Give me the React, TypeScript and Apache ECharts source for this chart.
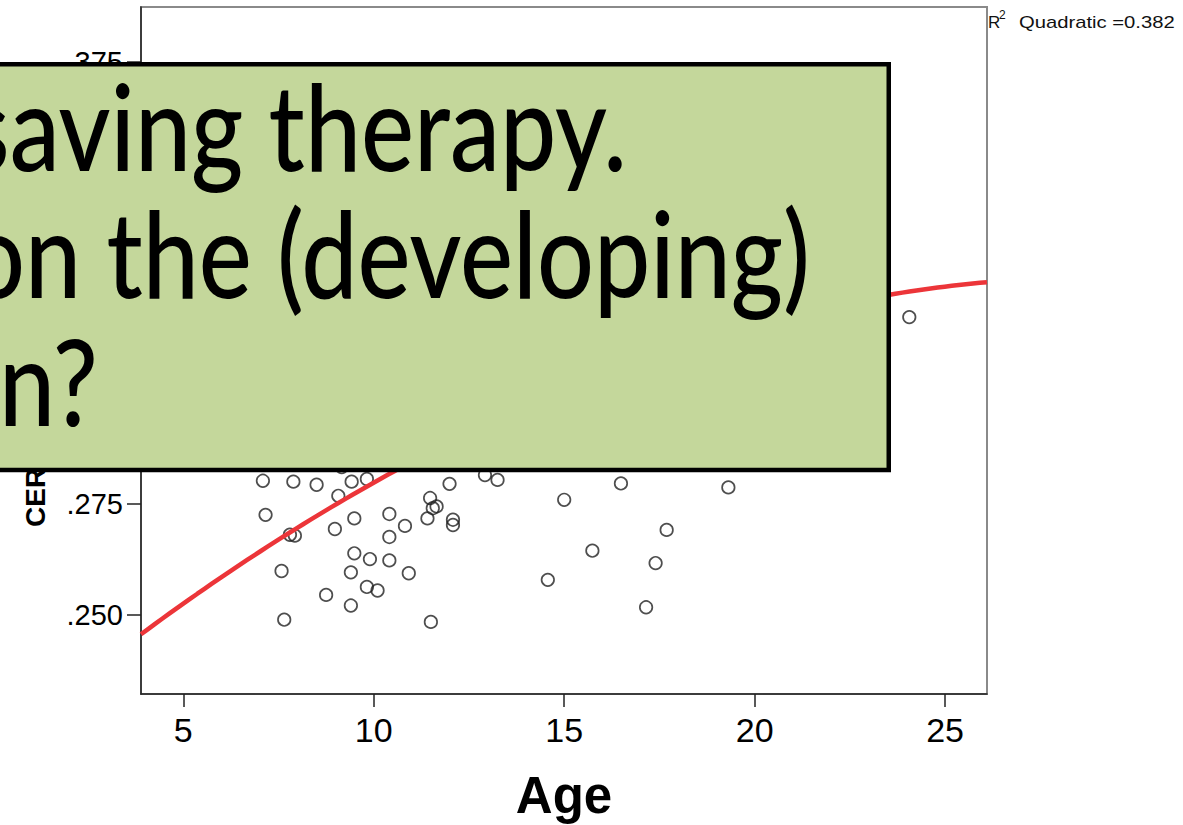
import React, { useEffect, useRef } from "react";
import * as echarts from "echarts";

// Axis ranges and tick values
const X_MIN = 3.89;
const X_MAX = 26.1;
const Y_MIN = 0.2321;
const Y_MAX = 0.3874;
const X_TICKS = [5, 10, 15, 20, 25];
const Y_TICKS = [0.25, 0.275, 0.3, 0.325, 0.35, 0.375];

// Observations: age (years) and CER value
const AGE = [
  7.09, 7.89, 8.5, 9.42, 9.82, 9.07, 9.16, 7.16, 9.49, 10.41, 8.98, 7.8, 7.93,
  10.41, 9.49, 9.9, 10.41, 7.58, 9.4, 9.82, 10.1, 8.75, 9.4, 7.65, 11.99, 12.92,
  13.25, 16.49, 19.31, 11.48, 11.65, 11.55, 15.0, 10.82, 11.41, 12.08, 12.08,
  17.69, 10.92, 15.74, 17.4, 14.57, 17.15, 11.5, 24.06,
];
const CER = [
  0.2803, 0.2801, 0.2794, 0.2801, 0.2807, 0.2769, 0.2834, 0.2726, 0.2718,
  0.2728, 0.2694, 0.2681, 0.2679, 0.2676, 0.2639, 0.2626, 0.2623, 0.2599,
  0.2596, 0.2563, 0.2555, 0.2545, 0.2521, 0.2489, 0.2796, 0.2816, 0.2805,
  0.2797, 0.2788, 0.2764, 0.2745, 0.2741, 0.276, 0.2701, 0.2718, 0.2715,
  0.2703, 0.2692, 0.2594, 0.2645, 0.2617, 0.2579, 0.2517, 0.2484, 0.3173,
];

// Quadratic fit: CER = a + b*age + c*age^2
const FIT_INTERCEPT = 0.218879;
const FIT_LINEAR = 0.0073584;
const FIT_QUADRATIC = -0.00012585;
const FIT_NAME = "Quadratic =0.382";

// Overlay box text lines
const BOX_LINES = ["saving therapy.", "on the (developing)", "n?"];

const AXIS_FONT = "'Liberation Sans', Arial, sans-serif";
const BOX_FONT = "Lato, 'Open Sans', sans-serif";

export default function App() {
  const ref = useRef<HTMLDivElement>(null);

  useEffect(() => {
    if (!ref.current) return;
    const chart = echarts.init(ref.current, null, { renderer: "svg" });

    const points = AGE.map((a, i) => [a, CER[i]]);
    const fit: number[][] = [];
    const steps = 120;
    for (let i = 0; i <= steps; i++) {
      const x = X_MIN + ((X_MAX - X_MIN) * i) / steps;
      fit.push([x, FIT_INTERCEPT + FIT_LINEAR * x + FIT_QUADRATIC * x * x]);
    }

    const boxFontSize = 120;
    const boxScaleX = 0.835;
    const baselines = [171.7, 298, 426.7];
    const rightEdges = [627, 810, 98];

    chart.setOption({
      animation: false,
      backgroundColor: "#ffffff",
      grid: {
        left: 141,
        right: 196,
        top: 7,
        bottom: 131,
        show: true,
        outerBoundsMode: "none",
        containLabel: false,
        borderColor: "#8a8a8a",
        borderWidth: 2,
        backgroundColor: "transparent",
      },
      xAxis: {
        type: "value",
        min: X_MIN,
        max: X_MAX,
        name: "Age",
        nameLocation: "middle",
        nameGap: 76,
        nameTextStyle: {
          fontFamily: AXIS_FONT,
          fontWeight: "bold",
          fontSize: 51,
          color: "#000",
        },
        axisLine: { show: true, lineStyle: { color: "#222", width: 1.5 } },
        axisTick: {
          show: true,
          length: 13,
          customValues: X_TICKS,
          lineStyle: { color: "#222", width: 1.5 },
        },
        axisLabel: {
          customValues: X_TICKS,
          margin: 19,
          fontFamily: AXIS_FONT,
          fontSize: 34,
          color: "#000",
          formatter: (v: number) => String(v),
        },
        splitLine: { show: false },
      },
      yAxis: {
        type: "value",
        min: Y_MIN,
        max: Y_MAX,
        axisLine: { show: true, lineStyle: { color: "#222", width: 1.5 } },
        axisTick: {
          show: true,
          length: 14,
          customValues: Y_TICKS,
          lineStyle: { color: "#222", width: 1.5 },
        },
        axisLabel: {
          customValues: Y_TICKS,
          margin: 18,
          fontFamily: AXIS_FONT,
          fontSize: 29,
          color: "#000",
          formatter: (v: number) => v.toFixed(3).replace(/^0/, ""),
        },
        splitLine: { show: false },
      },
      series: [
        {
          type: "scatter",
          data: points,
          symbol: "circle",
          symbolSize: 12.5,
          itemStyle: {
            color: "transparent",
            borderColor: "#222",
            borderWidth: 1.7,
          },
          z: 2,
        },
        {
          type: "line",
          data: fit,
          showSymbol: false,
          smooth: false,
          lineStyle: { color: "#ec3539", width: 4.5 },
          z: 3,
        },
      ],
      graphic: [
        {
          type: "text",
          x: 35,
          y: 527,
          rotation: Math.PI / 2,
          z: 5,
          style: {
            text: "CER",
            font: `bold 28px ${AXIS_FONT}`,
            fill: "#000",
            align: "left",
            verticalAlign: "middle",
          },
        },
        {
          type: "text",
          x: 988,
          y: 22.4,
          z: 5,
          style: {
            text: "R",
            font: `17px ${AXIS_FONT}`,
            fill: "#111",
            align: "left",
            verticalAlign: "middle",
          },
        },
        {
          type: "text",
          x: 999,
          y: 15,
          z: 5,
          style: {
            text: "2",
            font: `12px ${AXIS_FONT}`,
            fill: "#111",
            align: "left",
            verticalAlign: "middle",
          },
        },
        {
          type: "text",
          x: 1019,
          y: 22.4,
          z: 5,
          scaleX: 1.19,
          style: {
            text: FIT_NAME,
            font: `17px ${AXIS_FONT}`,
            fill: "#111",
            align: "left",
            verticalAlign: "middle",
          },
        },
        {
          type: "rect",
          z: 50,
          shape: { x: -20, y: 64.25, width: 908.75, height: 405.8 },
          style: { fill: "#c4d79b", stroke: "#000", lineWidth: 4.5 },
        },
        ...BOX_LINES.map((line, i) => ({
          type: "text",
          z: 51,
          x: rightEdges[i],
          y: baselines[i] - 0.387 * boxFontSize,
          scaleX: boxScaleX,
          style: {
            text: line,
            font: `500 ${boxFontSize}px ${BOX_FONT}`,
            fill: "#000",
            align: "right",
            verticalAlign: "middle",
          },
        })),
      ],
    });

    return () => chart.dispose();
  }, []);

  return (
    <div
      ref={ref}
      style={{
        position: "absolute",
        left: 0,
        top: 0,
        width: 1183,
        height: 825,
      }}
    />
  );
}
